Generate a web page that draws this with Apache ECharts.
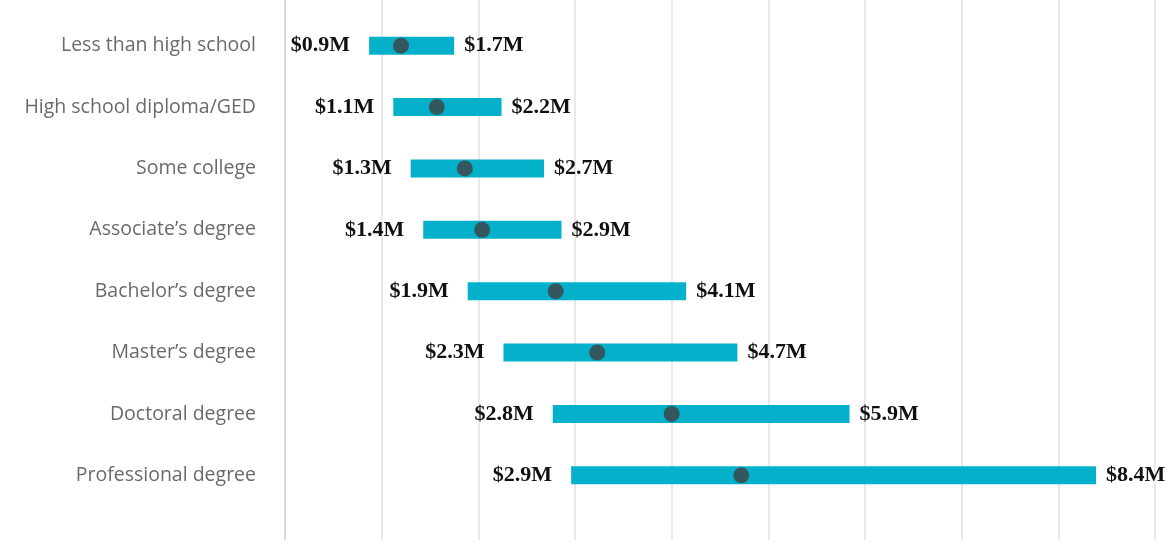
<!DOCTYPE html>
<html>
<head>
<meta charset="utf-8">
<script src="https://cdn.jsdelivr.net/npm/echarts@6/dist/echarts.min.js"></script>
<style>html,body{margin:0;padding:0;background:#fff;}#c{width:1174px;height:549px;}</style>
</head>
<body>
<div id="c"></div>
<script>
var categories = ['Less than high school','High school diploma/GED','Some college','Associate\u2019s degree','Bachelor\u2019s degree','Master\u2019s degree','Doctoral degree','Professional degree'];
var lowValues = [0.87, 1.12, 1.30, 1.43, 1.89, 2.26, 2.77, 2.96];
var highValues = [1.75, 2.24, 2.68, 2.86, 4.15, 4.68, 5.84, 8.39];
var medianValues = [1.20, 1.57, 1.86, 2.04, 2.80, 3.23, 4.00, 4.72];
var lowLabels = ['$0.9M','$1.1M','$1.3M','$1.4M','$1.9M','$2.3M','$2.8M','$2.9M'];
var highLabels = ['$1.7M','$2.2M','$2.7M','$2.9M','$4.1M','$4.7M','$5.9M','$8.4M'];
var xMin = 0, xMax = 9, xStep = 1;

var chart = echarts.init(document.getElementById('c'));
var valueLabelStyle = {fontFamily:'"Liberation Serif","Times New Roman",serif', fontWeight:'bold', fontSize:22, color:'#111'};
chart.setOption({
  animation:false,
  grid:[
    {left:285, right:19, top:0, height:540},
    {left:285, right:19, top:15, height:491}
  ],
  xAxis:[
    {gridIndex:0, type:'value', min:xMin, max:xMax, interval:xStep,
     axisLine:{show:false}, axisTick:{show:false}, axisLabel:{show:false},
     splitLine:{show:true, lineStyle:{width:1.5, color:['#c5cedb','#e2e2e2','#e2e2e2','#e2e2e2','#e2e2e2','#e2e2e2','#e2e2e2','#e2e2e2','#e2e2e2','#e2e2e2']}}},
    {gridIndex:1, type:'value', min:xMin, max:xMax, interval:xStep,
     axisLine:{show:false}, axisTick:{show:false}, axisLabel:{show:false}, splitLine:{show:false}}
  ],
  yAxis:[
    {gridIndex:0, type:'value', show:false},
    {gridIndex:1, type:'category', data:categories, inverse:true,
     axisLine:{show:false}, axisTick:{show:false}, splitLine:{show:false},
     axisLabel:{margin:29, fontFamily:'"Open Sans","Noto Sans",sans-serif', fontSize:19.5, color:'#6a6a6a'}}
  ],
  series:[
    {type:'bar', xAxisIndex:1, yAxisIndex:1, stack:'r', barWidth:18, silent:true,
     data:lowValues, itemStyle:{color:'rgba(0,0,0,0)'},
     label:{show:true, position:'insideRight', distance:19,
       formatter:function(p){return lowLabels[p.dataIndex];}, ...valueLabelStyle}},
    {type:'bar', xAxisIndex:1, yAxisIndex:1, stack:'r', barWidth:18,
     data:highValues.map(function(h,i){return +(h-lowValues[i]).toFixed(3);}),
     itemStyle:{color:'#05b1ca'},
     label:{show:true, position:'right', distance:10,
       formatter:function(p){return highLabels[p.dataIndex];}, ...valueLabelStyle}},
    {type:'scatter', xAxisIndex:1, yAxisIndex:1, symbol:'circle', symbolSize:16, z:5,
     data:medianValues.map(function(v,i){return [v, categories[i]];}),
     itemStyle:{color:'#3f4043'}}
  ]
});
</script>
</body>
</html>
